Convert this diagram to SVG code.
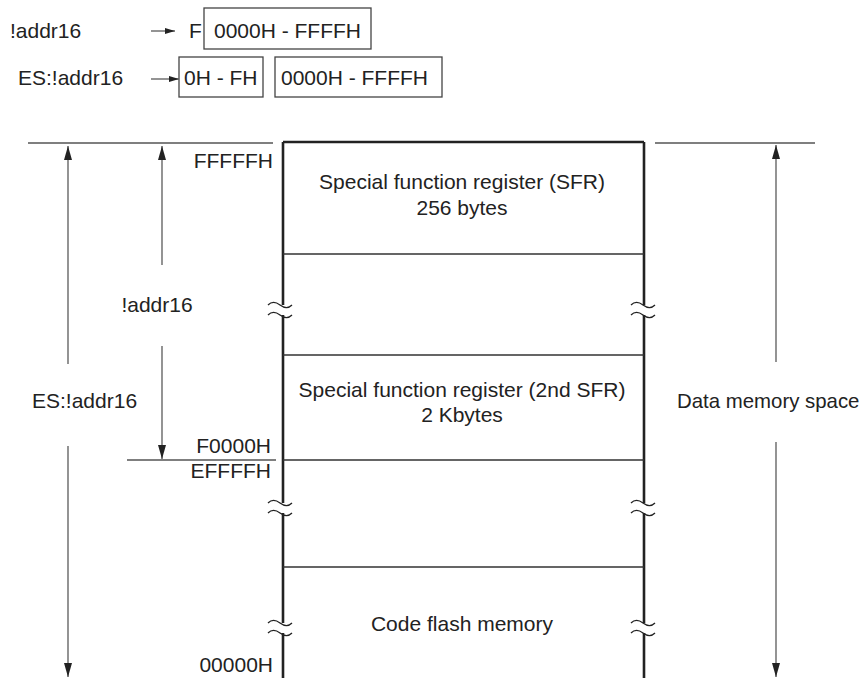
<svg xmlns="http://www.w3.org/2000/svg" width="864" height="678" viewBox="0 0 864 678">
<style>
text{font-family:"Liberation Sans",Arial,sans-serif;font-size:21px;fill:#222}
.m{text-anchor:middle}
.e{text-anchor:end}
.box{fill:none;stroke:#444;stroke-width:1.3}
.thin{fill:none;stroke:#555;stroke-width:1.4}
.div{fill:none;stroke:#333;stroke-width:1.3}
.edge{fill:none;stroke:#222;stroke-width:2.6}
.tl{fill:none;stroke:#222;stroke-width:1.3}
.arr{fill:none;stroke:#666;stroke-width:1.4}
</style>
<defs>
<marker id="ah" markerUnits="userSpaceOnUse" markerWidth="14" markerHeight="8" refX="14" refY="4" orient="auto"><path d="M0,0 L14,4 L0,8 z" fill="#222"/></marker>
<marker id="ahs" markerUnits="userSpaceOnUse" markerWidth="10" markerHeight="6" refX="10" refY="3" orient="auto"><path d="M0,0 L10,3 L0,6 z" fill="#222"/></marker>
<path id="tilde" d="M-12,0 C-8,-4 -4,-3 0,0 S8,4 12,0"/>
</defs>

<g id="legend">
<text x="10" y="38">!addr16</text>
<text x="189" y="38">F</text>
<rect class="box" x="204" y="8" width="167" height="41"/>
<text x="214" y="38">0000H - FFFFH</text>
<text x="18" y="85">ES:!addr16</text>
<rect class="box" x="179" y="57" width="84" height="40"/>
<text x="184" y="85">0H - FH</text>
<rect class="box" x="275" y="57" width="167" height="40"/>
<text x="281" y="85">0000H - FFFFH</text>
</g>

<g id="memory-map">
<path class="edge" d="M283,142 H644 M283,142 V305 M283,315 V503 M283,513 V623 M283,633 V680 M644,142 V305 M644,315 V503 M644,513 V623 M644,633 V680"/>
<path class="div" d="M283,254 H644 M283,355 H644 M283,460 H644 M283,567 H644"/>
<g class="tl">
<use href="#tilde" x="280" y="305"/><use href="#tilde" x="280" y="315"/>
<use href="#tilde" x="280" y="503"/><use href="#tilde" x="280" y="513"/>
<use href="#tilde" x="280" y="623"/><use href="#tilde" x="280" y="633"/>
<use href="#tilde" x="643" y="305"/><use href="#tilde" x="643" y="315"/>
<use href="#tilde" x="643" y="503"/><use href="#tilde" x="643" y="513"/>
<use href="#tilde" x="643" y="623"/><use href="#tilde" x="643" y="633"/>
</g>
</g>

<g id="sfr">
<text class="m" x="462" y="189">Special function register (SFR)</text>
<text class="m" x="462" y="215">256 bytes</text>
</g>
<g id="sfr2">
<text class="m" x="462" y="397">Special function register (2nd SFR)</text>
<text class="m" x="462" y="422">2 Kbytes</text>
</g>
<g id="flash">
<text class="m" x="462" y="631">Code flash memory</text>
</g>

<g id="addresses">
<text class="e" x="273" y="168">FFFFFH</text>
<text class="e" x="271" y="453">F0000H</text>
<text class="e" x="271" y="478">EFFFFH</text>
<text class="e" x="273" y="672">00000H</text>
</g>

<g id="labels">
<text class="m" x="157" y="312">!addr16</text>
<text x="32" y="408">ES:!addr16</text>
<text x="677" y="408" style="font-size:20.4px">Data memory space</text>
</g>

<g id="connectors">
<path class="thin" d="M28,143 H273 M655,143 H815 M127,460 H276"/>
<line class="arr" x1="151" y1="31" x2="175" y2="31" marker-end="url(#ahs)"/>
<line class="arr" x1="151" y1="79" x2="179" y2="79" marker-end="url(#ahs)"/>
<line class="arr" x1="68" y1="364" x2="68" y2="146" marker-end="url(#ah)"/>
<line class="arr" x1="68" y1="446" x2="68" y2="677" marker-end="url(#ah)"/>
<line class="arr" x1="162" y1="265" x2="162" y2="146" marker-end="url(#ah)"/>
<line class="arr" x1="162" y1="346" x2="162" y2="459" marker-end="url(#ah)"/>
<line class="arr" x1="776" y1="362" x2="776" y2="145" marker-end="url(#ah)"/>
<line class="arr" x1="776" y1="442" x2="776" y2="677" marker-end="url(#ah)"/>
</g>
</svg>
